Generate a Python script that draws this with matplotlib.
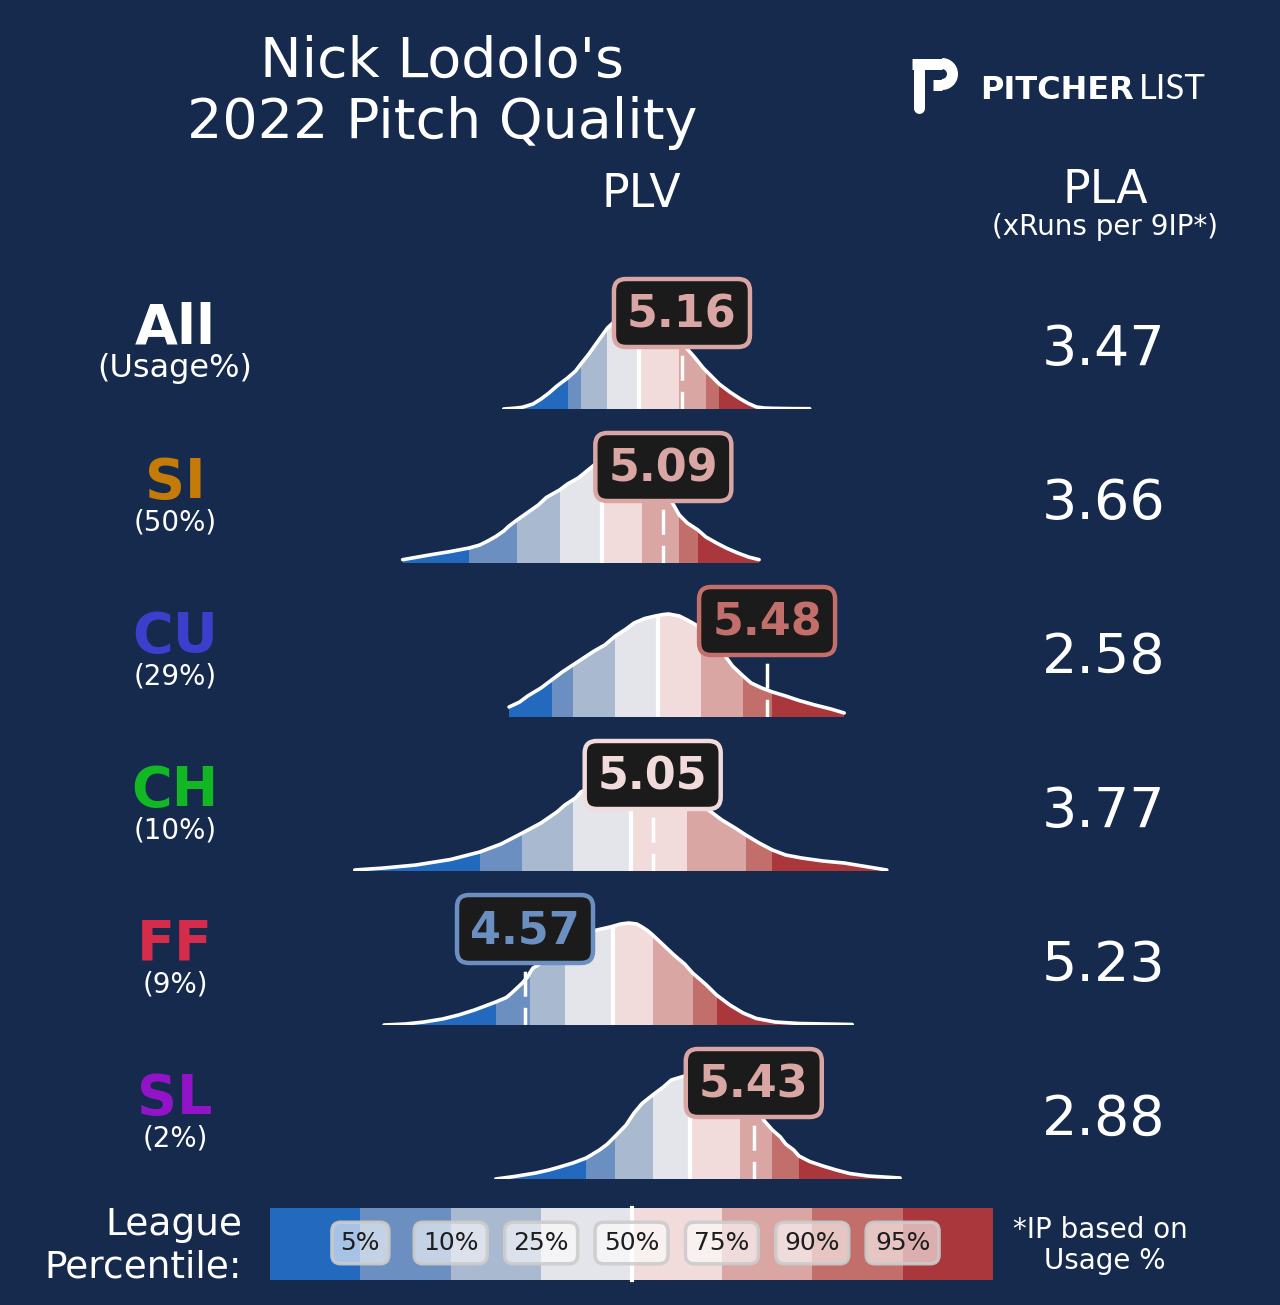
import numpy as np
import matplotlib.pyplot as plt
from matplotlib.patches import Rectangle, FancyBboxPatch, Arc
from matplotlib.path import Path

# rows of the chart
pitches = ['All', 'SI', 'CU', 'CH', 'FF', 'SL']
usage = ['(Usage%)', '(50%)', '(29%)', '(10%)', '(9%)', '(2%)']
pitch_colors = ['white', '#c47b07', '#3b3fcc', '#12b724', '#d42c4a', '#9313c9']
plv = [5.16, 5.09, 5.48, 5.05, 4.57, 5.43]
pla = [3.47, 3.66, 2.58, 3.77, 5.23, 2.88]

# league percentile cutoffs (PLV) for 5, 10, 25, 50, 75, 90, 95
pct_labels = ['5%', '10%', '25%', '50%', '75%', '90%', '95%']
cut_all = [4.73, 4.78, 4.88, 5.00, 5.15, 5.25, 5.30]
cut_si = [4.36, 4.54, 4.70, 4.86, 5.01, 5.15, 5.22]
cut_cu = [4.67, 4.75, 4.91, 5.07, 5.23, 5.39, 5.50]
cut_ch = [4.40, 4.56, 4.75, 4.97, 5.18, 5.40, 5.50]
cut_ff = [4.46, 4.59, 4.72, 4.90, 5.05, 5.20, 5.29]
cut_sl = [4.80, 4.91, 5.05, 5.19, 5.38, 5.50, 5.60]

# league PLV distributions (x = PLV, y = relative density)
x_all = [4.49, 4.53, 4.56, 4.60, 4.63, 4.66, 4.69, 4.73, 4.76, 4.78, 4.81, 4.85,
         4.88, 4.92, 4.95, 4.98, 5.00, 5.03, 5.06, 5.09, 5.12, 5.15, 5.18, 5.21,
         5.24, 5.27, 5.30, 5.34, 5.38, 5.41, 5.44, 5.47, 5.50, 5.57, 5.64]
y_all = [0.0, 0.008, 0.017, 0.05, 0.10, 0.16, 0.23, 0.31, 0.38, 0.45, 0.55, 0.70,
         0.81, 0.91, 0.97, 1.00, 0.995, 0.97, 0.92, 0.86, 0.78, 0.69, 0.60, 0.51,
         0.41, 0.33, 0.25, 0.17, 0.10, 0.055, 0.02, 0.01, 0.007, 0.004, 0.003]
x_si = [4.11, 4.21, 4.29, 4.36, 4.40, 4.43, 4.46, 4.49, 4.51, 4.54, 4.58, 4.62,
        4.65, 4.70, 4.73, 4.77, 4.80, 4.83, 4.85, 4.88, 4.93, 4.98, 5.04, 5.09,
        5.12, 5.15, 5.18, 5.22, 5.25, 5.29, 5.33, 5.37, 5.41, 5.45]
y_si = [0.033, 0.08, 0.115, 0.15, 0.18, 0.22, 0.265, 0.32, 0.37, 0.43, 0.505, 0.58,
        0.655, 0.73, 0.79, 0.85, 0.915, 0.98, 1.015, 1.035, 1.04, 0.99, 0.88, 0.74,
        0.62, 0.48, 0.40, 0.33, 0.26, 0.20, 0.145, 0.10, 0.06, 0.033]
x_cu = [4.51, 4.55, 4.58, 4.63, 4.67, 4.71, 4.75, 4.79, 4.83, 4.87, 4.91, 4.95,
        4.98, 5.02, 5.06, 5.09, 5.11, 5.15, 5.18, 5.21, 5.24, 5.26, 5.28, 5.30,
        5.32, 5.35, 5.39, 5.42, 5.46, 5.50, 5.55, 5.60, 5.66, 5.72, 5.77]
y_cu = [0.10, 0.15, 0.21, 0.29, 0.37, 0.45, 0.52, 0.59, 0.66, 0.72, 0.81, 0.88,
        0.94, 0.985, 1.01, 1.025, 1.03, 1.01, 0.97, 0.925, 0.87, 0.81, 0.75, 0.68,
        0.62, 0.51, 0.41, 0.34, 0.29, 0.25, 0.21, 0.165, 0.12, 0.08, 0.04]
x_ch = [3.93, 4.04, 4.16, 4.29, 4.40, 4.48, 4.56, 4.63, 4.69, 4.72, 4.76, 4.78,
        4.82, 4.85, 4.89, 4.93, 4.97, 5.00, 5.04, 5.08, 5.12, 5.15, 5.19, 5.23,
        5.27, 5.31, 5.36, 5.40, 5.45, 5.50, 5.55, 5.61, 5.69, 5.77, 5.85, 5.93]
y_ch = [0.01, 0.03, 0.06, 0.115, 0.19, 0.27, 0.38, 0.48, 0.59, 0.66, 0.73, 0.79,
        0.84, 0.895, 0.94, 0.97, 0.99, 0.99, 0.97, 0.93, 0.87, 0.80, 0.73, 0.66,
        0.59, 0.51, 0.43, 0.36, 0.28, 0.21, 0.16, 0.13, 0.10, 0.08, 0.045, 0.01]
x_ff = [4.04, 4.12, 4.19, 4.26, 4.32, 4.38, 4.46, 4.50, 4.52, 4.54, 4.56, 4.58,
        4.59, 4.60, 4.62, 4.64, 4.66, 4.69, 4.72, 4.75, 4.78, 4.81, 4.84, 4.89,
        4.93, 4.96, 4.99, 5.01, 5.03, 5.05, 5.09, 5.13, 5.17, 5.20, 5.25, 5.29,
        5.34, 5.39, 5.44, 5.51, 5.60, 5.80]
y_ff = [0.0, 0.01, 0.03, 0.06, 0.10, 0.15, 0.23, 0.275, 0.32, 0.37, 0.42, 0.48,
        0.53, 0.57, 0.60, 0.655, 0.70, 0.76, 0.82, 0.865, 0.90, 0.93, 0.95, 0.98,
        1.01, 1.02, 1.01, 0.98, 0.945, 0.90, 0.80, 0.70, 0.61, 0.52, 0.405, 0.30,
        0.20, 0.12, 0.065, 0.03, 0.015, 0.005]
x_sl = [4.46, 4.53, 4.61, 4.66, 4.70, 4.75, 4.80, 4.85, 4.88, 4.91, 4.95, 4.98,
        5.01, 5.05, 5.09, 5.12, 5.17, 5.23, 5.27, 5.30, 5.34, 5.38, 5.41, 5.44,
        5.47, 5.50, 5.53, 5.55, 5.58, 5.60, 5.64, 5.69, 5.74, 5.79, 5.86, 5.98]
y_sl = [0.0, 0.025, 0.06, 0.09, 0.12, 0.16, 0.21, 0.29, 0.35, 0.43, 0.54, 0.66,
        0.755, 0.84, 0.92, 0.99, 1.03, 1.04, 1.02, 0.98, 0.92, 0.84, 0.77, 0.70,
        0.58, 0.49, 0.42, 0.35, 0.29, 0.23, 0.175, 0.13, 0.09, 0.055, 0.03, 0.01]

cuts = [cut_all, cut_si, cut_cu, cut_ch, cut_ff, cut_sl]
xs = [x_all, x_si, x_cu, x_ch, x_ff, x_sl]
ys = [y_all, y_si, y_cu, y_ch, y_ff, y_sl]

bg = '#162a4d'
pal = ['#2369bd', '#6a8fc0', '#a9b9d0', '#e4e5ea', '#f2dcdb', '#d9a6a3', '#c26f6b', '#a9373b']

W, H = 1280, 1305
fig = plt.figure(figsize=(W / 100, H / 100), dpi=100, facecolor=bg)

# overlay in pixel coords for the text and legend
ov = fig.add_axes([0, 0, 1, 1])
ov.set_xlim(0, W)
ov.set_ylim(H, 0)
ov.axis('off')

ov.text(442, 77, "Nick Lodolo's", ha='center', va='baseline', fontsize=40, color='white')
ov.text(442, 138, '2022 Pitch Quality', ha='center', va='baseline', fontsize=40, color='white')
ov.text(641, 207, 'PLV', ha='center', va='baseline', fontsize=33, color='white')
ov.text(1105, 203, 'PLA', ha='center', va='baseline', fontsize=33, color='white')
ov.text(1105, 235, '(xRuns per 9IP*)', ha='center', va='baseline', fontsize=20, color='white')

# pitcher list logo
lw_px = 11 / 1.389
ov.plot([919, 919], [64, 108], color='white', lw=lw_px, solid_capstyle='round')
ov.plot([912, 942], [63.5, 63.5], color='white', lw=lw_px, solid_capstyle='butt')
ov.plot([933, 942], [84.5, 84.5], color='white', lw=lw_px, solid_capstyle='butt')
ov.add_patch(Arc((942, 74), 21, 21, theta1=-90, theta2=90, color='white', lw=lw_px))
ov.text(980, 99, 'PITCHER', ha='left', va='baseline', fontsize=23, fontweight='bold', color='white')
ov.text(1139, 99, 'LIST', ha='left', va='baseline', fontsize=25, family='Lato',
        fontweight='normal', color='white')

base0, step = 409, 154
xmin = (300 + 690.6) / 266
xmax = (960 + 690.6) / 266

for i in range(len(pitches)):
    b = base0 + step * i
    ov.text(175, b - 65, pitches[i], ha='center', va='baseline', fontsize=40,
            fontweight='bold', color=pitch_colors[i])
    ov.text(175, b - 32, usage[i], ha='center', va='baseline',
            fontsize=23 if i == 0 else 20, color='white')
    ov.text(1104, b - 44, f'{pla[i]:.2f}', ha='center', va='baseline', fontsize=40, color='white')

    ax = fig.add_axes([300 / W, 1 - b / H, 660 / W, 150 / H])
    ax.set_xlim(xmin, xmax)
    ax.set_ylim(0, 1.5)
    ax.axis('off')

    x = np.array(xs[i])
    y = np.array(ys[i])
    verts = [(x[0], 0)] + list(zip(x, y)) + [(x[-1], 0), (x[0], 0)]
    shape = Path(verts, closed=True)

    edges = [x[0]] + cuts[i] + [x[-1]]
    for k in range(len(pal)):
        r = Rectangle((edges[k], 0), edges[k + 1] - edges[k], 1.5, facecolor=pal[k], lw=0)
        ax.add_patch(r)
        r.set_clip_path(shape, ax.transData)

    med = cuts[i][3]
    ml, = ax.plot([med, med], [0, 1.5], color='white', lw=3)
    ml.set_clip_path(shape, ax.transData)

    ax.plot(x, y, color='white', lw=2.6, solid_capstyle='round', solid_joinstyle='round')

    v = plv[i]
    col = pal[np.searchsorted(cuts[i], v)]
    ax.plot([v, v], [1.26, 0], color='white', lw=2.5, linestyle=(0, (7.2, 3.2)), zorder=4)
    bw, bh = 136 / 266, 0.68
    ax.add_patch(FancyBboxPatch((v - bw / 2, 0.96 - bh / 2), bw, bh,
                                boxstyle=f'round,pad=0,rounding_size={12 / 266}',
                                mutation_aspect=2.66, facecolor='#1b1b1b',
                                edgecolor=col, lw=3.2, zorder=5, clip_on=False))
    ax.text(v, 0.81, f'{v:.2f}', ha='center', va='baseline', fontsize=32,
            fontweight='bold', color=col, zorder=6)

# percentile legend
bx0, bw_leg = 270, 723 / len(pal)
for k, c in enumerate(pal):
    ov.add_patch(Rectangle((bx0 + k * bw_leg, 1208), bw_leg, 72, facecolor=c, lw=0))
ov.plot([bx0 + 4 * bw_leg] * 2, [1208, 1280], color='white', lw=3)
for k, lab in enumerate(pct_labels):
    ov.text(bx0 + (k + 1) * bw_leg, 1243, lab, ha='center', va='center', fontsize=18,
            color='#1e1e1e',
            bbox=dict(boxstyle='round,pad=0.35', facecolor=(1, 1, 1, 0.6),
                      edgecolor=(0.8, 0.8, 0.8, 0.9), lw=2.5))

ov.text(242, 1235, 'League', ha='right', va='baseline', fontsize=27, color='white')
ov.text(242, 1278, 'Percentile:', ha='right', va='baseline', fontsize=27, color='white')
ov.text(1100, 1238, '*IP based on', ha='center', va='baseline', fontsize=20, color='white')
ov.text(1105, 1269, 'Usage %', ha='center', va='baseline', fontsize=20, color='white')

fig.savefig('out.png', dpi=100, facecolor=bg)
